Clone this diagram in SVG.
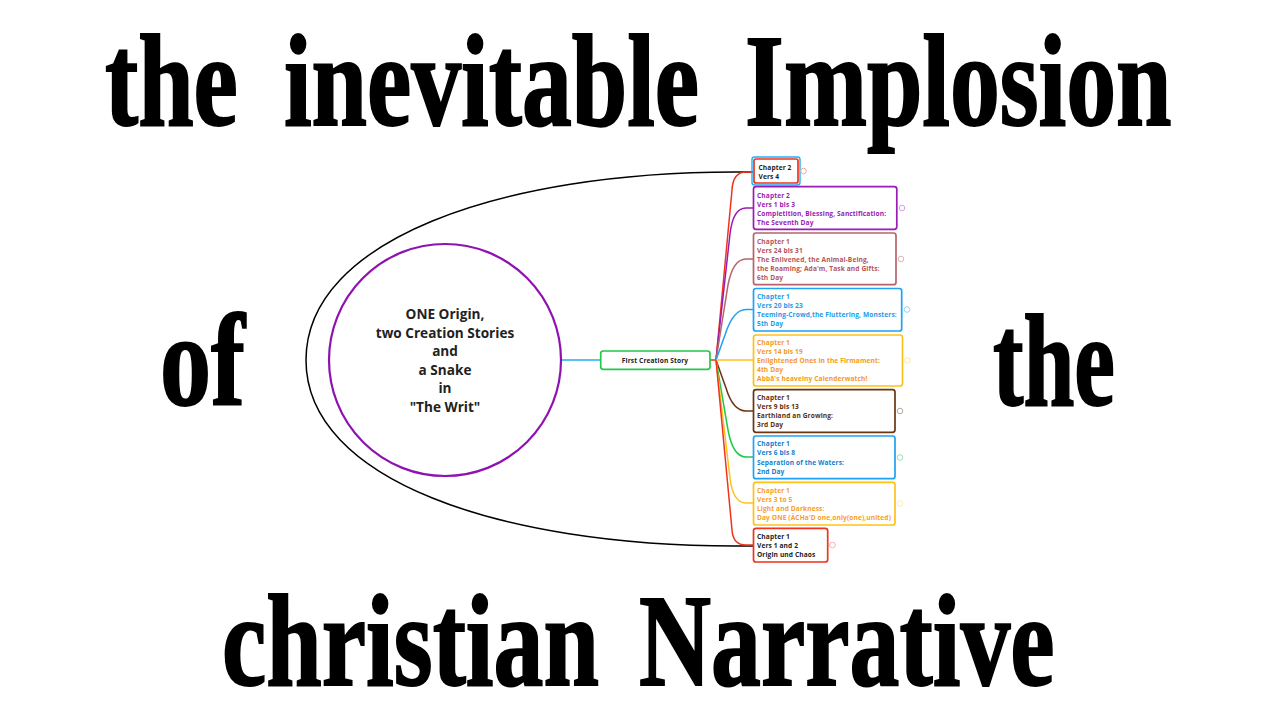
<svg xmlns="http://www.w3.org/2000/svg" width="1280" height="720" viewBox="0 0 1280 720">
<style>
.t{font-family:"Liberation Serif",serif;font-weight:700;font-size:132px;fill:#000;stroke:#000;stroke-width:2px}
.n{font-family:"Open Sans","Noto Sans",sans-serif;font-weight:700;font-size:6.6px;letter-spacing:.12px}
.c{font-family:"Open Sans","Noto Sans",sans-serif;font-weight:700;font-size:13.6px;fill:#222;text-anchor:middle}
.b{fill:#fff;stroke-width:1.7}
.l{fill:none;stroke-width:1.5}
.m{fill:#fff;stroke-width:.8}
</style>
<rect width="1280" height="720" fill="#fff"/>
<g id="titles">
<text class="t" transform="translate(105 125) scale(.755 1)" word-spacing="28">the inevitable Implosion</text>
<text class="t" transform="translate(160 405) scale(.773 1)">of</text>
<text class="t" transform="translate(993 405) scale(.693 1)">the</text>
<text class="t" transform="translate(222 685) scale(.756 1)" word-spacing="20">christian Narrative</text>
</g>
<g id="connectors">
<path class="l" stroke="#000" d="M753 172H735C500 172 306 240 306 360C306 480 500 546 735 546H753"/>
<path class="l" stroke="#1fb0f5" d="M561 360H601"/>
<path class="l" stroke="#f0321e" d="M710 360H716"/>
<path class="l" stroke="#f0321e" d="M716 360L732 190Q733 172 746 172H753"/>
<path class="l" stroke="#9a1bb5" d="M716 360L730 234Q733 208 746 208H754"/>
<path class="l" stroke="#b5656a" d="M716 360L728 285Q733 259 746 259H754"/>
<path class="l" stroke="#1fa2f5" d="M716 360L725 335Q733 309.500 746 309.500H754"/>
<path class="l" stroke="#fdc21a" d="M716 360H754"/>
<path class="l" stroke="#6b3512" d="M716 360L726 388Q733 411 746 411H754"/>
<path class="l" stroke="#22c84a" d="M716 360L728 430Q733 457 746 457H754"/>
<path class="l" stroke="#fdc21a" d="M716 360L730 478Q733 503 746 503H754"/>
<path class="l" stroke="#f0321e" d="M716 360L732 530Q733 545 746 545H754"/>
</g>
<g id="root">
<circle cx="445" cy="360" r="116" fill="#fff" stroke="#8f12b0" stroke-width="2.200"/>
<text class="c" x="445" y="319">ONE Origin,</text>
<text class="c" x="445" y="337.500">two Creation Stories</text>
<text class="c" x="445" y="356">and</text>
<text class="c" x="445" y="374.500">a Snake</text>
<text class="c" x="445" y="393">in</text>
<text class="c" x="445" y="411.500">"The Writ"</text>
</g>
<g id="first-creation-story">
<rect class="b" x="600.700" y="351" width="109.300" height="18.300" rx="2.500" stroke="#22c84a"/>
<text class="n" x="655" y="362.500" fill="#222" text-anchor="middle">First Creation Story</text>
</g>
<g id="n-c2v4">
<rect x="752" y="157" width="48" height="28" rx="2.500" fill="none" stroke="#1fb0f5" stroke-width="1.400"/>
<rect class="b" x="754" y="159" width="44" height="24" rx="2" stroke="#f0321e"/>
<text class="n" fill="#222"><tspan x="758.500" y="169.500">Chapter 2</tspan><tspan x="758.500" y="178.500">Vers 4</tspan></text>
<circle class="m" cx="803.500" cy="171" r="2.800" stroke="#f5907a"/>
</g>
<g id="n-c2v1">
<rect class="b" x="753.500" y="186.700" width="143.300" height="42.600" rx="2.500" stroke="#9a1bb5"/>
<text class="n" fill="#9a1bb5"><tspan x="757" y="198">Chapter 2</tspan><tspan x="757" y="206.800">Vers 1 bis 3</tspan><tspan x="757" y="215.600">Completition, Blessing, Sanctification:</tspan><tspan x="757" y="224.700">The Seventh Day</tspan></text>
<circle class="m" cx="902" cy="208" r="2.800" stroke="#c58ad5"/>
</g>
<g id="n-c1v24">
<rect class="b" x="753.500" y="233" width="142.500" height="51.700" rx="2.500" stroke="#b5656a"/>
<text class="n" fill="#b5565a"><tspan x="757" y="243.800">Chapter 1</tspan><tspan x="757" y="252.800">Vers 24 bis 31</tspan><tspan x="757" y="262">The Enlivened, the Animal-Being,</tspan><tspan x="757" y="271">the Roaming; Ada'm, Task and Gifts:</tspan><tspan x="757" y="280">6th Day</tspan></text>
<circle class="m" cx="901" cy="259" r="2.800" stroke="#d5a0a5"/>
</g>
<g id="n-c1v20">
<rect class="b" x="753.500" y="288.500" width="148.200" height="42.500" rx="2.500" stroke="#1fa2f5"/>
<text class="n" fill="#1e9be8"><tspan x="757" y="298.500">Chapter 1</tspan><tspan x="757" y="307.500">Vers 20 bis 23</tspan><tspan x="757" y="316.700">Teeming-Crowd,the Fluttering, Monsters:</tspan><tspan x="757" y="325.700">5th Day</tspan></text>
<circle class="m" cx="907" cy="309.500" r="2.800" stroke="#7cc8f5"/>
</g>
<g id="n-c1v14">
<rect class="b" x="753.500" y="335" width="149" height="51" rx="2.500" stroke="#fdc21a"/>
<text class="n" fill="#f59a23"><tspan x="757" y="345">Chapter 1</tspan><tspan x="757" y="354">Vers 14 bis 19</tspan><tspan x="757" y="363">Enlightened Ones in the Firmament:</tspan><tspan x="757" y="372">4th Day</tspan><tspan x="757" y="381.300">Abbā's heavelny Calenderwatch!</tspan></text>
<circle class="m" cx="907.500" cy="360.500" r="2.800" stroke="#fde08a"/>
</g>
<g id="n-c1v9">
<rect class="b" x="753.500" y="389.700" width="141.500" height="42.600" rx="2.500" stroke="#6b3512"/>
<text class="n" fill="#5c2e10"><tspan x="757" y="400">Chapter 1</tspan><tspan x="757" y="409">Vers 9 bis 13</tspan><tspan x="757" y="418">Earthland an Growing:</tspan><tspan x="757" y="427">3rd Day</tspan></text>
<circle class="m" cx="900" cy="411" r="2.800" stroke="#a89080"/>
</g>
<g id="n-c1v6">
<rect class="b" x="753.500" y="436" width="141.500" height="42.700" rx="2.500" stroke="#1fa2f5"/>
<text class="n" fill="#0f7fd0"><tspan x="757" y="446.200">Chapter 1</tspan><tspan x="757" y="455.200">Vers 6 bis 8</tspan><tspan x="757" y="464.500">Separation of the Waters:</tspan><tspan x="757" y="473.500">2nd Day</tspan></text>
<circle class="m" cx="900" cy="457.500" r="2.800" stroke="#7ce09a"/>
</g>
<g id="n-c1v3">
<rect class="b" x="753.500" y="482.300" width="141.500" height="42.700" rx="2.500" stroke="#fdc21a"/>
<text class="n" fill="#f9a01e"><tspan x="757" y="492.700">Chapter 1</tspan><tspan x="757" y="501.700">Vers 3 to 5</tspan><tspan x="757" y="511">Light and Darkness:</tspan><tspan x="757" y="520">Day ONE (ÄCHa'D one,only(one),united)</tspan></text>
<circle class="m" cx="900" cy="503.500" r="2.800" stroke="#fde8a0"/>
</g>
<g id="n-c1v1">
<rect class="b" x="753.500" y="528.300" width="74.200" height="33.700" rx="2.500" stroke="#f0321e"/>
<text class="n" fill="#222"><tspan x="757" y="538.800">Chapter 1</tspan><tspan x="757" y="547.800">Vers 1 and 2</tspan><tspan x="757" y="557">Origin und Chaos</tspan></text>
<circle class="m" cx="832.500" cy="545" r="2.800" stroke="#f5a090"/>
</g>
</svg>
